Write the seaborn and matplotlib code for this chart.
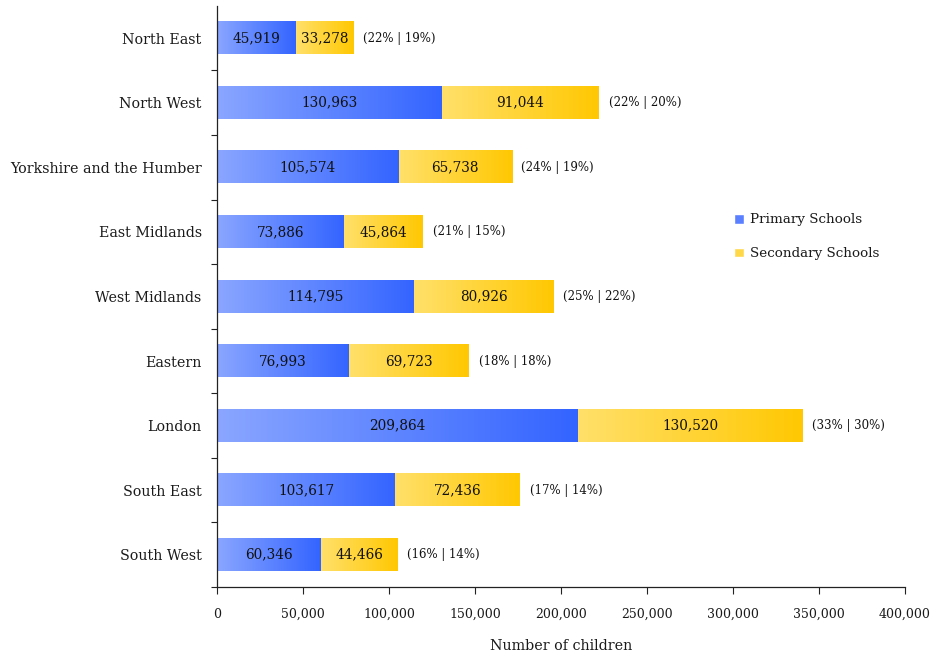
import numpy as np
import pandas as pd
import matplotlib
matplotlib.use("Agg")
import matplotlib.pyplot as plt
import seaborn as sns
from matplotlib.colors import LinearSegmentedColormap
from matplotlib.patches import Patch

regions = ["North East", "North West", "Yorkshire and the Humber", "East Midlands",
           "West Midlands", "Eastern", "London", "South East", "South West"]
primary = [45919, 130963, 105574, 73886, 114795, 76993, 209864, 103617, 60346]
secondary = [33278, 91044, 65738, 45864, 80926, 69723, 130520, 72436, 44466]
pct_primary = [22, 22, 24, 21, 25, 18, 33, 17, 16]
pct_secondary = [19, 20, 19, 15, 22, 18, 30, 14, 14]
x_ticks = [0, 50000, 100000, 150000, 200000, 250000, 300000, 350000, 400000]

sns.set_theme(style="white")
plt.rcParams['font.family'] = ['DejaVu Serif']
plt.rcParams['text.color'] = '#1a1a1a'
plt.rcParams['xtick.color'] = '#1a1a1a'
plt.rcParams['ytick.color'] = '#1a1a1a'
plt.rcParams['axes.labelcolor'] = '#1a1a1a'

fig = plt.figure(figsize=(9.32, 6.57), dpi=100)
ax = fig.add_axes([0.2328, 0.1065, 0.9710 - 0.2328, 0.991 - 0.1065])

df = pd.DataFrame({"region": regions, "primary": primary, "secondary": secondary})
df["total"] = df["primary"] + df["secondary"]

sns.barplot(data=df, y="region", x="total", color="#ffd84a", width=0.5, ax=ax,
            orient="h", saturation=1)
sns.barplot(data=df, y="region", x="primary", color="#5a80ff", width=0.5, ax=ax,
            orient="h", saturation=1)

n = len(regions)
patches = list(ax.patches)
sec_patches = patches[:n]
pri_patches = patches[n:]

blue_cmap = LinearSegmentedColormap.from_list("b", ["#8aa6ff", "#3364ff"])
yellow_cmap = LinearSegmentedColormap.from_list("y", ["#ffe06a", "#ffc802"])
grad = np.linspace(0, 1, 256).reshape(1, -1)

for i in range(n):
    sp = sec_patches[i]
    pp = pri_patches[i]
    y0 = pp.get_y()
    h = pp.get_height()
    p_end = primary[i]
    t_end = primary[i] + secondary[i]
    sp.set_visible(False)
    pp.set_visible(False)
    ax.imshow(grad, cmap=blue_cmap, aspect="auto",
              extent=[0, p_end, y0 + h, y0], zorder=2, interpolation="bilinear")
    ax.imshow(grad, cmap=yellow_cmap, aspect="auto",
              extent=[p_end, t_end, y0 + h, y0], zorder=2, interpolation="bilinear")
    yc = y0 + h / 2
    ax.text(p_end / 2, yc, f"{primary[i]:,}", ha="center", va="center",
            fontsize=9.8, color="#111111", zorder=3)
    ax.text(p_end + secondary[i] / 2, yc, f"{secondary[i]:,}", ha="center", va="center",
            fontsize=9.8, color="#111111", zorder=3)
    ax.annotate(f"({pct_primary[i]}% | {pct_secondary[i]}%)", xy=(t_end, yc),
                xytext=(7, 0), textcoords="offset points", ha="left", va="center",
                fontsize=8.5, color="#111111", zorder=3)

ax.set_xlim(0, 400000)
ax.set_ylim(n - 0.5, -0.5)
ax.set_xticks(x_ticks)
ax.set_xticklabels([f"{v:,}" for v in x_ticks], fontsize=9)
ax.set_xlabel("Number of children", fontsize=10.3, labelpad=13)
ax.set_ylabel("")
ax.set_yticks(range(n))
ax.set_yticklabels(regions, fontsize=10.3)
ax.tick_params(axis="y", which="major", length=0, pad=11)
ax.set_yticks(np.arange(-0.5, n - 0.4, 1.0)[1:], minor=True)
ax.tick_params(axis="y", which="minor", length=4, width=0.8, color="#222222", left=True, direction="out")
ax.tick_params(axis="x", which="major", length=5, width=0.8, color="#222222", bottom=True,
               direction="out", pad=10)

for s in ["top", "right"]:
    ax.spines[s].set_visible(False)
for s in ["left", "bottom"]:
    ax.spines[s].set_color("#222222")
    ax.spines[s].set_linewidth(0.9)

handles = [Patch(facecolor="#5a80ff", label="Primary Schools"),
           Patch(facecolor="#ffd84a", label="Secondary Schools")]
leg = ax.legend(handles=handles, loc="upper left", bbox_to_anchor=(0.752, 0.643),
                frameon=False, fontsize=9.7, handlelength=0.75, handleheight=0.75,
                labelspacing=1.55, handletextpad=0.4, borderpad=0, borderaxespad=0)

fig.savefig("out.png", dpi=100)
